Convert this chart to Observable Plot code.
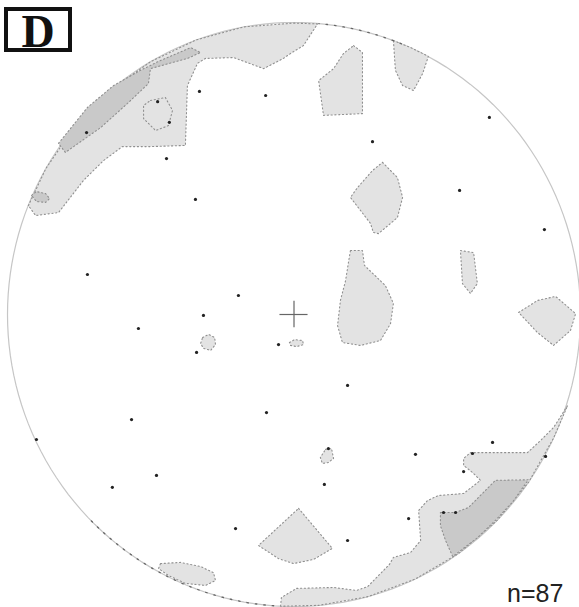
<!DOCTYPE html>
<html><head><meta charset="utf-8">
<script src="https://cdn.jsdelivr.net/npm/d3@7"></script>
<script src="https://cdn.jsdelivr.net/npm/@observablehq/plot@0.6"></script>
<style>
body{margin:0;background:#fff;}
#wrap{position:relative;width:579px;height:607px;overflow:hidden;}
#label{position:absolute;left:4px;top:7px;width:60px;height:37px;border:4px solid #111;background:#fff;
  font-family:"Liberation Serif","DejaVu Serif",serif;font-weight:bold;font-size:46px;line-height:42px;text-align:center;color:#111;}
#count{position:absolute;left:507px;top:581px;font-family:"Liberation Sans",Arial,sans-serif;font-size:25px;line-height:1;color:#222;}
</style></head>
<body><div id="wrap"><div id="chart"></div><div id="label">D</div><div id="count">n=87</div></div>
<script>
// Net coordinates: radius of the primitive circle = 100
const poles = [
  [-33.0,76.4],[-9.9,75.0],[-43.5,65.8],[-44.5,53.4],[-34.4,39.4],[-72.4,62.3],[-47.6,72.9],
  [68.2,67.5],[27.4,59.2],[57.8,42.5],[87.4,29.1],[-72.1,13.7],[-19.4,6.5],[-31.6,-0.3],
  [-54.3,-4.8],[-34.0,-13.0],[-5.4,-10.3],[18.7,-24.3],[-56.7,-36.0],[-9.6,-33.6],[-89.9,-42.8],
  [12.0,-45.9],[10.6,-58.2],[42.4,-47.9],[69.3,-43.8],[59.2,-53.8],[-48.0,-55.1],[-63.4,-59.2],
  [-20.4,-73.3],[18.7,-77.4],[40.0,-69.9],[87.8,-48.6],[52.2,-67.8],[56.4,-67.8],[62.3,-47.6]
];
// light (lowest level) contour polygons
const nwBand = [[-92.7,37.3],[-86.6,50],[-76.6,64.3],[-64.3,76.6],[-50,86.6],[-34.2,94.0],[-17.4,98.5],[0,99.8],[8.2,99.5],
  [3.3,92.1],[-1.2,89.4],[-3.7,87.7],[-10.6,84.2],[-21.1,88.0],[-30.9,87.7],[-33.7,86.0],[-37.2,78.4],[-37.9,57.9],
  [-50.1,57.5],[-59.9,57.5],[-66.5,52.7],[-73.5,45.9],[-82.2,34.9],[-90.2,33.9]];
const topBlob = [[20.8,92.1],[23.9,89.7],[23.9,68.8],[10.3,68.2],[8.6,80.1],[13.8,84.2],[17.3,89.4]];
const rimBlob = [[34.7,93.8],[40.7,91.4],[46.9,88.4],[44.9,82.5],[41.7,76.7],[37.9,78.4],[35.4,83.6]];
const diamond = [[30.9,52.1],[36.1,46.9],[37.9,40.1],[36.1,33.2],[29.5,27.7],[27.7,28.1],[26.7,31.2],[19.7,40.1],[22.2,43.5],[27.4,49.3]];
const eastBlob = [[19.7,21.9],[23.9,21.9],[24.6,16.8],[31.9,9.9],[34.7,3.8],[33.7,-3.1],[30.2,-8.9],[23.2,-10.6],[16.9,-9.6],[15.2,-3.8],[16.2,4.8],[18.0,11.6],[19.0,17.8]];
const narrowBlob = [[58.1,21.9],[62.7,21.2],[64.0,10.6],[61.6,7.2],[58.8,10.6]];
const rightBlob = [[78.4,0.7],[85.0,4.8],[91.3,6.2],[98.3,0.3],[96.5,-5.5],[90.6,-10.6],[85.0,-6.2]];
const westDot = [[-31.9,-7.9],[-29.8,-6.8],[-27.7,-7.9],[-27.4,-10.3],[-29.1,-12.3],[-31.6,-11.6],[-32.6,-9.9]];
const centreDot = [[-1.6,-9.6],[0.2,-8.6],[3.0,-8.9],[3.3,-10.3],[0.9,-11.0],[-1.2,-10.6]];
const southDot = [[11.0,-46.2],[13.1,-45.9],[13.8,-49.3],[12.0,-50.7],[9.9,-51.0],[9.2,-49.0]];
const fan = [[1.6,-66.4],[13.4,-80.1],[6.8,-83.9],[-0.2,-85.3],[-5.4,-83.6],[-12.4,-79.1]];
const swBlob = [[-46.6,-85.3],[-39.6,-84.9],[-32.6,-86.3],[-28.1,-88.4],[-27.4,-91.1],[-30.9,-92.8],[-37.9,-92.1],[-43.8,-89.4],[-47.3,-87.0]];
const seBand = [[-4.7,-99.9],[-4.4,-96.9],[0.9,-93.8],[13.8,-93.5],[21.8,-94.5],[25.7,-93.2],[29.5,-89.4],[33.3,-85.6],[34.7,-83.2],
  [40.7,-81.5],[44.2,-77.4],[43.5,-67.1],[46.6,-63.7],[50.4,-62.0],[59.2,-61.3],[65.1,-56.8],[62.3,-54.1],[59.2,-51.7],[59.2,-49.3],
  [61.6,-47.3],[81.5,-47.3],[86.0,-43.2],[90.6,-38.7],[95.5,-31.2],[90.6,-42.3],[81.9,-57.4],[70.7,-70.7],[57.4,-81.9],[42.3,-90.6],[25.9,-96.6],[8.7,-99.6]];
// darker (higher level) contour polygons
const nwDark = [[-82.2,58.6],[-72.1,70.9],[-63.0,78.4],[-53.6,83.6],[-46.6,87.0],[-36.1,91.4],[-32.6,89.7],
  [-37.2,87.7],[-50.1,84.2],[-50.8,79.1],[-58.1,72.3],[-67.5,64.0],[-79.8,55.5]];
const nwDarkSpot = [[-91.6,40.8],[-89.9,42.1],[-86.7,41.4],[-85.3,39.7],[-86.7,38.4],[-89.9,38.7]];
const seDark = [[51.1,-67.8],[56.4,-67.8],[60.9,-66.1],[70.3,-56.8],[81.8,-56.6],[76.4,-64.1],[70.4,-70.4],[64.1,-76.4],[55.4,-82.9],[52.9,-77.4],[51.1,-72.3]];
// contour drawn as outline only
const nwRing = [[-50.1,73.3],[-44.9,74.3],[-42.4,69.9],[-43.8,64.7],[-48.3,63.0],[-52.5,67.1],[-52.5,71.6]];
// dotted stretches of the primitive circle (degrees)
const dottedRim = [[68,85],[-135,-93]];

const lightPolys = {nwBand, topBlob, rimBlob, diamond, eastBlob, narrowBlob, rightBlob, westDot, centreDot, southDot, fan, swBlob, seBand};
const darkPolys = {nwDark, nwDarkSpot, seDark};

const rows = (polys) => Object.entries(polys).flatMap(([id, pts]) =>
  pts.concat([pts[0]]).map(([x, y]) => ({id, x, y})));
const rim = d3.range(0, 361, 2).map(a => ({x: 100 * Math.cos(a * Math.PI / 180), y: 100 * Math.sin(a * Math.PI / 180)}));
const rimDots = dottedRim.flatMap(([a0, a1], i) => d3.range(a0, a1 + 0.5, 1).map(a => ({id: i, x: 100 * Math.cos(a * Math.PI / 180), y: 100 * Math.sin(a * Math.PI / 180)})));
const dotStroke = {stroke: "#8f8f8f", strokeWidth: 1.1, strokeDasharray: "1.2,2.6"};

const chart = Plot.plot({
  width: 579, height: 607, margin: 0,
  style: {background: "#fff", overflow: "visible"},
  x: {domain: [-100, 100], range: [7, 580], axis: null},
  y: {domain: [-100, 100], range: [606, 22], axis: null},
  marks: [
    Plot.line(rim, {x: "x", y: "y", stroke: "#c6c6c6", strokeWidth: 1.2}),
    Plot.line(rows(lightPolys), {x: "x", y: "y", z: "id", fill: "#e3e3e3", ...dotStroke}),
    Plot.line(rows(darkPolys), {x: "x", y: "y", z: "id", fill: "#c9c9c9", ...dotStroke}),
    Plot.line(rows({nwRing}), {x: "x", y: "y", z: "id", fill: "none", ...dotStroke}),
    Plot.line(rimDots, {x: "x", y: "y", z: "id", stroke: "#666", strokeWidth: 1.3, strokeDasharray: "1.5,7"}),
    Plot.ruleY([0], {x1: -4.9, x2: 4.9, stroke: "#666", strokeWidth: 1.2}),
    Plot.ruleX([0], {y1: -4.5, y2: 4.5, stroke: "#666", strokeWidth: 1.2}),
    Plot.dot(poles, {x: d => d[0], y: d => d[1], r: 1.6, fill: "#222", stroke: "none"})
  ]
});
document.getElementById("chart").append(chart);
</script></body></html>
